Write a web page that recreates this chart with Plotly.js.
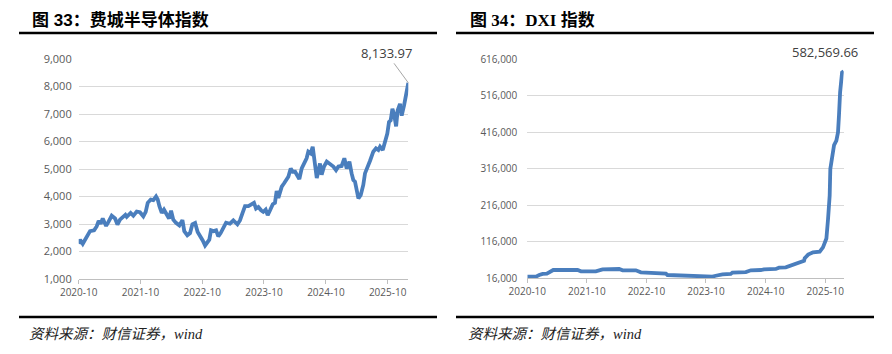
<!DOCTYPE html>
<html>
<head>
<meta charset="utf-8">
<script src="https://cdn.plot.ly/plotly-3.0.1.min.js"></script>
<style>
html,body{margin:0;padding:0;background:#fff;}
#chart{width:892px;height:354px;}
</style>
</head>
<body>
<div id="chart"></div>
<script>
// 费城半导体指数 (SOX)
const soxDates = ["2020-10-01","2020-10-09","2020-10-25","2020-11-13","2020-12-07","2020-12-31","2021-01-15","2021-01-27","2021-02-08","2021-02-20","2021-03-12","2021-03-25","2021-04-14","2021-05-04","2021-05-18","2021-06-02","2021-06-26","2021-07-04","2021-07-12","2021-08-04","2021-08-20","2021-09-09","2021-09-28","2021-10-18","2021-11-01","2021-11-13","2021-12-01","2021-12-16","2022-01-01","2022-01-11","2022-01-21","2022-02-04","2022-02-17","2022-03-05","2022-03-19","2022-03-31","2022-04-13","2022-04-29","2022-05-19","2022-06-06","2022-06-17","2022-07-05","2022-07-21","2022-08-04","2022-08-20","2022-09-04","2022-09-18","2022-10-04","2022-10-18","2022-10-31","2022-11-12","2022-11-22","2022-12-06","2022-12-22","2023-01-04","2023-01-18","2023-02-03","2023-02-19","2023-03-14","2023-04-03","2023-04-27","2023-05-12","2023-05-26","2023-06-11","2023-07-01","2023-07-20","2023-08-03","2023-08-15","2023-08-29","2023-09-14","2023-09-27","2023-10-11","2023-10-23","2023-11-06","2023-11-22","2023-12-05","2023-12-15","2023-12-25","2024-01-08","2024-01-14","2024-01-28","2024-02-08","2024-02-22","2024-03-07","2024-03-19","2024-04-02","2024-04-17","2024-04-27","2024-05-11","2024-05-25","2024-06-09","2024-06-19","2024-07-03","2024-07-15","2024-07-25","2024-08-08","2024-08-17","2024-08-27","2024-09-06","2024-09-20","2024-10-06","2024-10-25","2024-11-14","2024-11-30","2024-12-14","2025-01-02","2025-01-18","2025-02-01","2025-02-17","2025-03-02","2025-03-12","2025-03-22","2025-04-01","2025-04-11","2025-04-25","2025-05-10","2025-05-20","2025-06-03","2025-06-19","2025-07-08","2025-07-24","2025-08-07","2025-08-17","2025-09-02","2025-09-15","2025-09-29","2025-10-09","2025-10-19","2025-10-29","2025-11-08","2025-11-20","2025-11-29","2025-12-13","2025-12-23","2026-01-06","2026-01-18","2026-01-31"];
const soxValues = [2280,2430,2280,2500,2740,2770,2910,3110,3010,3200,2930,3070,3300,3200,2980,3160,3260,3330,3260,3400,3300,3450,3430,3280,3440,3770,3890,3870,4000,3890,3650,3400,3520,3380,3200,3480,3160,3040,2950,3140,2740,2590,2670,2990,3040,2710,2590,2400,2220,2340,2430,2770,2740,2770,2550,2670,2890,3050,3010,3130,2990,3130,3380,3650,3650,3720,3770,3560,3620,3500,3440,3520,3320,3500,3720,3770,4200,3950,4300,4360,4480,4600,4720,5020,4900,4900,4720,4630,5020,5200,5390,5630,5570,5810,5330,4670,4900,5200,4790,5090,5270,5200,5090,4960,5090,5110,5390,5020,5270,4840,4600,4540,4300,3930,4060,4420,4840,5020,5300,5630,5750,5690,5810,5690,5990,6290,6710,6770,7190,6990,6550,7130,7370,6940,7310,7730,8133.97];

// DXI 指数
const dxiDates = ["2020-10-01","2020-11-23","2020-12-13","2021-01-03","2021-01-29","2021-02-17","2021-03-09","2021-04-15","2021-08-05","2021-08-26","2021-11-25","2022-01-05","2022-04-17","2022-05-08","2022-07-28","2022-08-28","2022-10-18","2022-10-28","2023-01-28","2023-02-07","2023-05-10","2023-05-20","2023-08-20","2023-11-10","2023-11-30","2024-01-10","2024-03-01","2024-03-11","2024-06-01","2024-07-02","2024-09-01","2024-09-21","2024-12-02","2024-12-22","2025-02-01","2025-03-03","2025-04-03","2025-04-23","2025-05-24","2025-05-28","2025-06-13","2025-06-18","2025-07-18","2025-08-28","2025-09-17","2025-09-27","2025-10-08","2025-10-18","2025-10-28","2025-11-01","2025-11-12","2025-11-24","2025-12-08","2025-12-18","2025-12-24","2025-12-31","2026-01-12","2026-01-22"];
const dxiValues = [20500,20500,25000,28000,29000,35000,38700,38700,38700,35000,35000,40500,41500,37800,37800,32400,31500,29000,29000,25000,24000,21500,20500,20500,23000,27000,28000,31500,33000,37800,38700,40500,41500,45000,46000,51500,55000,59000,64000,70700,77000,80700,87000,89000,100800,114500,125000,178000,242000,315000,356000,380600,392500,415000,461000,525000,579000,582569.66];

const xTickVals = ["2020-10-01","2021-10-01","2022-10-01","2023-10-01","2024-10-01","2025-10-01"];
const xTickText = ["2020-10","2021-10","2022-10","2023-10","2024-10","2025-10"];
const soxTicks = [1000,2000,3000,4000,5000,6000,7000,8000,9000];
const dxiTicks = [16000,116000,216000,316000,416000,516000,616000];

const W = 892, H = 354;
const px = v => v / W;
const py = v => 1 - v / H;

const lineColor = "#4a7ebd";
const tickFont = {family: "Open Sans, sans-serif", size: 10, color: "#595959"};

const traces = [
  {x: soxDates, y: soxValues, type: "scatter", mode: "lines", xaxis: "x", yaxis: "y",
   line: {color: lineColor, width: 3.8}, hoverinfo: "skip"},
  {x: dxiDates, y: dxiValues, type: "scatter", mode: "lines", xaxis: "x2", yaxis: "y2",
   line: {color: lineColor, width: 3.8}, hoverinfo: "skip"}
];

const xCommon = {
  type: "date", tickmode: "array", tickvals: xTickVals, ticktext: xTickText,
  showgrid: false, zeroline: false, showline: true, linecolor: "#bfbfbf", linewidth: 1,
  ticks: "outside", ticklen: 4, tickcolor: "#bfbfbf", tickfont: tickFont, fixedrange: true
};
const yCommon = {
  showgrid: true, gridcolor: "#d9d9d9", gridwidth: 1, zeroline: false, showline: false,
  ticks: "", tickfont: tickFont, tickformat: ",d", fixedrange: true
};

const layout = {
  width: W, height: H, autosize: false,
  margin: {l: 0, r: 0, t: 0, b: 0, pad: 0},
  paper_bgcolor: "#ffffff", plot_bgcolor: "#ffffff",
  showlegend: false,
  xaxis: Object.assign({}, xCommon, {domain: [px(78.7), px(408.3)], range: ["2020-10-01", "2026-01-31"], anchor: "y"}),
  yaxis: Object.assign({}, yCommon, {domain: [py(279), py(59)], range: [1000, 9000], tickvals: soxTicks, anchor: "x",
    tickfont: Object.assign({}, tickFont, {size: 11}), ticklabelstandoff: 6}),
  xaxis2: Object.assign({}, xCommon, {domain: [px(527.3), px(843.7)], range: ["2020-10-01", "2026-01-22"], anchor: "y2"}),
  yaxis2: Object.assign({}, yCommon, {domain: [py(278.3), py(59)], range: [16000, 616000], tickvals: dxiTicks, anchor: "x2",
    ticklabelstandoff: 9}),
  shapes: [
    {type: "line", xref: "paper", yref: "paper", x0: px(19), x1: px(437), y0: py(33), y1: py(33), line: {color: "#000", width: 2.6}},
    {type: "line", xref: "paper", yref: "paper", x0: px(456), x1: px(874), y0: py(33), y1: py(33), line: {color: "#000", width: 2.6}},
    {type: "line", xref: "paper", yref: "paper", x0: px(19), x1: px(437), y0: py(317), y1: py(317), line: {color: "#000", width: 2.6}},
    {type: "line", xref: "paper", yref: "paper", x0: px(456), x1: px(874), y0: py(317), y1: py(317), line: {color: "#000", width: 2.6}}
  ],
  annotations: [
    {xref: "paper", yref: "paper", x: px(30), y: py(20), xanchor: "left", yanchor: "middle", showarrow: false,
     text: "<b>图 33：费城半导体指数</b>", font: {family: "Liberation Sans, Noto Sans CJK SC, sans-serif", size: 17, color: "#000"}},
    {xref: "paper", yref: "paper", x: px(467.5), y: py(20), xanchor: "left", yanchor: "middle", showarrow: false,
     text: "<b>图 34：DXI 指数</b>", font: {family: "Liberation Serif, Noto Sans CJK SC, serif", size: 17, color: "#000"}},
    {xref: "paper", yref: "paper", x: px(27), y: py(334), xanchor: "left", yanchor: "middle", showarrow: false,
     text: "<i>资料来源：财信证券，wind</i>", font: {family: "Liberation Serif, Noto Sans CJK SC, serif", size: 14.5, color: "#222"}},
    {xref: "paper", yref: "paper", x: px(466), y: py(334), xanchor: "left", yanchor: "middle", showarrow: false,
     text: "<i>资料来源：财信证券，wind</i>", font: {family: "Liberation Serif, Noto Sans CJK SC, serif", size: 14.5, color: "#222"}},
    {xref: "x", yref: "y", x: soxDates[soxDates.length - 1], y: soxValues[soxValues.length - 1],
     text: "8,133.97", showarrow: true, arrowhead: 0, arrowwidth: 1, arrowcolor: "#a6a6a6", standoff: 0,
     ax: -22, ay: -30, font: {family: "Open Sans, sans-serif", size: 13, color: "#404040"}},
    {xref: "x2", yref: "y2", x: dxiDates[dxiDates.length - 1], y: dxiValues[dxiValues.length - 1],
     text: "582,569.66", showarrow: false, xshift: -19, yshift: 19,
     font: {family: "Open Sans, sans-serif", size: 13, color: "#404040"}}
  ]
};

Plotly.newPlot("chart", traces, layout, {staticPlot: true, displayModeBar: false});
</script>
</body>
</html>
